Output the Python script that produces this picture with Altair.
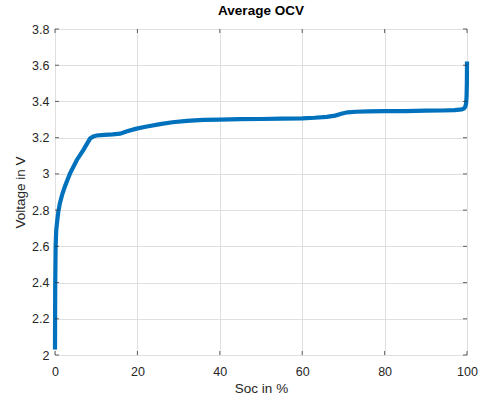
import altair as alt
import pandas as pd

soc = [0, 0.05, 0.15, 0.3, 0.56, 0.8, 1.2, 1.8, 2.4, 3.6, 5.3, 6.9, 8.5, 9.3,
       10.1, 12, 14, 15.8, 17.5, 19.8, 22, 25.5, 28.5, 32, 36, 40, 45, 50, 55,
       60, 63, 66, 68, 69.5, 71, 73, 76, 80, 85, 90, 94, 97, 98.7, 99.3, 99.6,
       99.8, 99.9, 99.97, 100]
volt = [2.03, 2.38, 2.6, 2.69, 2.745, 2.79, 2.84, 2.89, 2.93, 3.0, 3.077, 3.133,
        3.195, 3.207, 3.212, 3.215, 3.218, 3.222, 3.235, 3.25, 3.26, 3.275,
        3.285, 3.293, 3.298, 3.3, 3.302, 3.303, 3.305, 3.307, 3.31, 3.315,
        3.322, 3.332, 3.34, 3.343, 3.345, 3.346, 3.347, 3.349, 3.35, 3.352,
        3.356, 3.362, 3.372, 3.39, 3.43, 3.5, 3.62]
x_ticks = [0, 20, 40, 60, 80, 100]
y_ticks = [2, 2.2, 2.4, 2.6, 2.8, 3, 3.2, 3.4, 3.6, 3.8]

W, H = 412, 326
FONT = "Liberation Sans"
TXT = "#262626"

df = pd.DataFrame({"soc": soc, "volt": volt})
xt = pd.DataFrame({"soc": x_ticks})
yt = pd.DataFrame({"volt": y_ticks})

xscale = alt.Scale(domain=[0, 100], nice=False)
yscale = alt.Scale(domain=[2, 3.8], nice=False, zero=False)

common_axis = dict(grid=True, ticks=False, domain=False, labelOverlap=False,
                   labelFlush=False, labelFont=FONT, labelFontSize=12.5,
                   labelColor=TXT, titleFont=FONT, titleFontSize=13.5,
                   titleColor=TXT, titleFontWeight="normal",
                   gridColor="#dfdfdf", gridWidth=1)

xaxis = alt.Axis(values=x_ticks, labelPadding=20, labelBaseline="alphabetic",
                 titleX=W / 2, titleY=37, titleBaseline="alphabetic",
                 titleAlign="center", **common_axis)
yaxis = alt.Axis(values=y_ticks, labelPadding=6, labelExpr="datum.value",
                 titleX=-35, titleY=H / 2, titleAngle=-90,
                 titleBaseline="middle", titleAlign="center", **common_axis)


def X():
    return alt.X("soc:Q", scale=xscale, title="Soc in %", axis=xaxis)


def Y():
    return alt.Y("volt:Q", scale=yscale, title="Voltage in V", axis=yaxis)


line = alt.Chart(df).mark_line(color="#0072BD", strokeWidth=4.2, clip=False).encode(
    x=X(), y=Y())

tick_style = dict(color=TXT, thickness=1, size=4)
bx = alt.Chart(xt).mark_tick(**tick_style).encode(x=X(), y=alt.value(H - 2))
tx = alt.Chart(xt).mark_tick(**tick_style).encode(x=X(), y=alt.value(2))
ly = alt.Chart(yt).mark_tick(**tick_style).encode(y=Y(), x=alt.value(2))
ry = alt.Chart(yt).mark_tick(**tick_style).encode(y=Y(), x=alt.value(W - 2))

chart = alt.layer(line, bx, tx, ly, ry).properties(
    width=W, height=H,
    title=alt.TitleParams("Average OCV", fontSize=13.5, fontWeight="bold",
                          font=FONT, color="#000000", anchor="middle", offset=6),
    autosize=alt.AutoSizeParams(type="none"),
    padding={"left": 55, "top": 29, "right": 14, "bottom": 39},
).configure_view(stroke=TXT, strokeWidth=1).configure(background="white")

chart.save("out.html", embed_options={"renderer": "svg", "actions": False})
